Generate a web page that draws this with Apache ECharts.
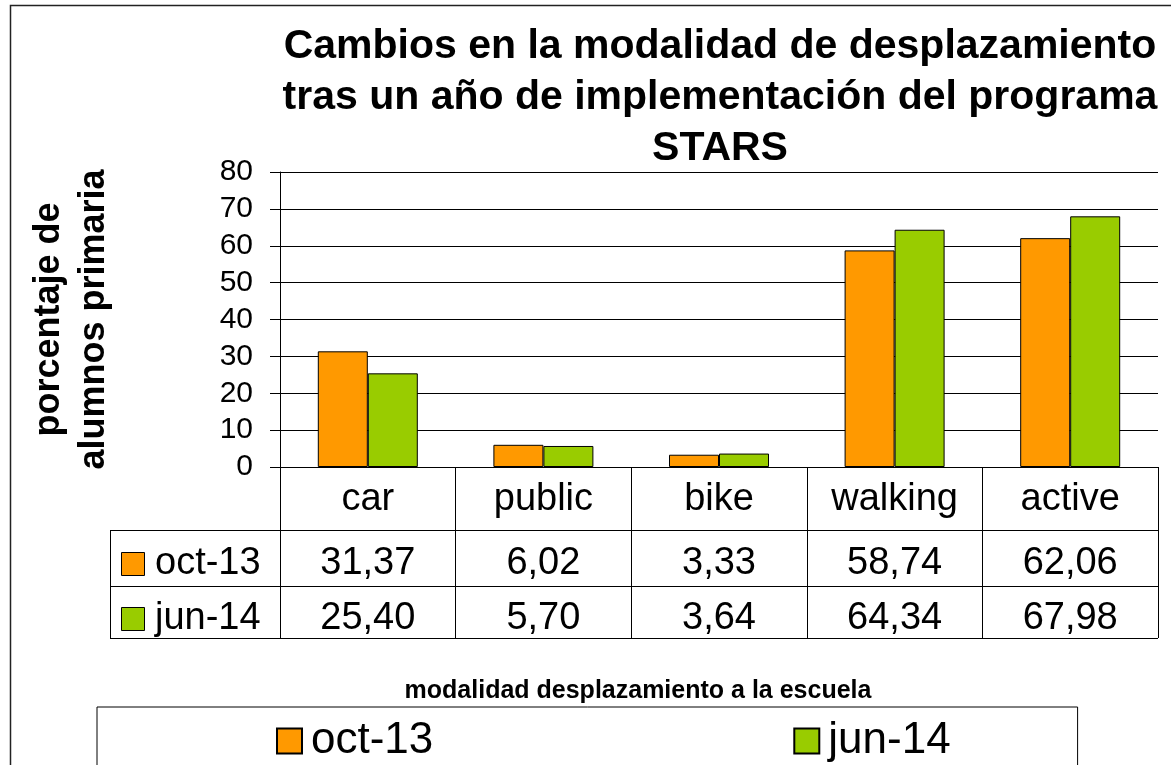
<!DOCTYPE html>
<html>
<head>
<meta charset="utf-8">
<script src="https://cdn.jsdelivr.net/npm/echarts@6/dist/echarts.min.js"></script>
<style>
  html, body { margin: 0; padding: 0; background: #fff; }
  #chart { width: 1171px; height: 765px; }
</style>
</head>
<body>
<div id="chart"></div>
<script>
var categories = ['car', 'public', 'bike', 'walking', 'active'];
var seriesNames = ['oct-13', 'jun-14'];
var oct13 = [31.37, 6.02, 3.33, 58.74, 62.06];
var jun14 = [25.40, 5.70, 3.64, 64.34, 67.98];
var colors = ['#FF9900', '#99CC00'];
var yMin = 0, yMax = 80, yStep = 10;

var font = "'Liberation Sans', Arial, sans-serif";
var gridLeft = 280, gridTop = 172, gridRight = 13, gridBottom = 298;
var tableLeft = 110;
var rowLines = [530, 586, 638];   // lignes horizontales du tableau
var tableFont = 38;

function fmt(v) {
  return v.toFixed(2).replace('.', ',');
}

var myChart = echarts.init(document.getElementById('chart'));

// cadre + lignes + en-têtes de lignes du tableau de données
var graphics = [{
  type: 'rect',
  shape: { x: 10.5, y: 5.5, width: 1400, height: 1000 },
  style: { fill: 'none', stroke: '#222', lineWidth: 1.5 },
  silent: true
}];
rowLines.forEach(function (y) {
  graphics.push({
    type: 'line',
    shape: { x1: tableLeft, y1: y + 0.5, x2: 1171 - gridRight, y2: y + 0.5 },
    style: { stroke: '#000', lineWidth: 1 }
  });
});
graphics.push({
  type: 'line',
  shape: { x1: tableLeft + 0.5, y1: rowLines[0], x2: tableLeft + 0.5, y2: rowLines[2] },
  style: { stroke: '#000', lineWidth: 1 }
});
var rowCenters = [564, 619];
seriesNames.forEach(function (name, i) {
  graphics.push({
    type: 'rect',
    shape: { x: 121.5, y: rowCenters[i] - 11.5, width: 23, height: 23 },
    style: { fill: colors[i], stroke: '#000', lineWidth: 1 }
  });
  graphics.push({
    type: 'text',
    x: 155, y: rowCenters[i],
    style: { text: name, font: tableFont + 'px ' + font, fill: '#000', verticalAlign: 'middle', align: 'left' }
  });
});

var valueRows = [oct13, jun14];

var option = {
  animation: false,
  backgroundColor: '#fff',
  title: [{
    text: 'Cambios en la modalidad de desplazamiento\ntras un año de implementación del programa\nSTARS',
    left: 720,
    top: 21,
    padding: 0,
    textAlign: 'center',
    textStyle: { fontFamily: font, fontSize: 41, fontWeight: 'bold', lineHeight: 51, color: '#000' }
  }, {
    text: 'modalidad desplazamiento a la escuela',
    left: 638,
    top: 679,
    padding: 0,
    textAlign: 'center',
    textStyle: { fontFamily: font, fontSize: 25, fontWeight: 'bold', color: '#000' }
  }],
  legend: {
    data: seriesNames,
    left: 97,
    top: 707,
    orient: 'horizontal',
    itemWidth: 25,
    itemHeight: 25,
    itemGap: 360,
    padding: [12, 127, 60, 179],
    borderColor: '#000',
    borderWidth: 1,
    icon: 'rect',
    textStyle: { fontFamily: font, fontSize: 44, color: '#000', padding: [0, 0, 0, 4] }
  },
  grid: { left: gridLeft, top: gridTop, right: gridRight, bottom: gridBottom, containLabel: false },
  xAxis: [{
    type: 'category',
    data: categories,
    axisLine: { show: true, lineStyle: { color: '#000', width: 1 } },
    axisTick: { show: true, length: rowLines[2] - 467, lineStyle: { color: '#000', width: 1 } },
    axisLabel: { fontFamily: font, fontSize: tableFont, color: '#000', margin: 33, verticalAlign: 'middle' }
  }].concat(valueRows.map(function (row, i) {
    return {
      type: 'category',
      data: categories,
      position: 'bottom',
      axisLine: { show: false },
      axisTick: { show: false },
      axisLabel: {
        fontFamily: font, fontSize: tableFont, color: '#000',
        margin: rowCenters[i] - 467, verticalAlign: 'middle',
        formatter: function (v, idx) { return fmt(row[idx]); }
      }
    };
  })),
  yAxis: {
    type: 'value',
    min: yMin,
    max: yMax,
    interval: yStep,
    name: 'porcentaje de\nalumnos primaria',
    nameLocation: 'middle',
    nameRotate: 90,
    nameGap: 163,
    nameTextStyle: { fontFamily: font, fontSize: 36, fontWeight: 'bold', color: '#000', lineHeight: 45 },
    axisLine: { show: true, lineStyle: { color: '#000', width: 1 } },
    axisTick: { show: true, length: 10, lineStyle: { color: '#000', width: 1 } },
    axisLabel: { fontFamily: font, fontSize: 30, color: '#000', margin: 27 },
    splitLine: { show: true, lineStyle: { color: '#000', width: 1 } }
  },
  series: [{
    name: seriesNames[0],
    type: 'bar',
    data: oct13,
    barWidth: 50,
    barGap: '0%',
    itemStyle: { color: colors[0], borderColor: '#000', borderWidth: 1 }
  }, {
    name: seriesNames[1],
    type: 'bar',
    data: jun14,
    barWidth: 50,
    barGap: '0%',
    itemStyle: { color: colors[1], borderColor: '#000', borderWidth: 1 }
  }],
  graphic: graphics
};

myChart.setOption(option);

window.addEventListener('resize', function () {
  myChart.resize();
});
</script>
</body>
</html>
